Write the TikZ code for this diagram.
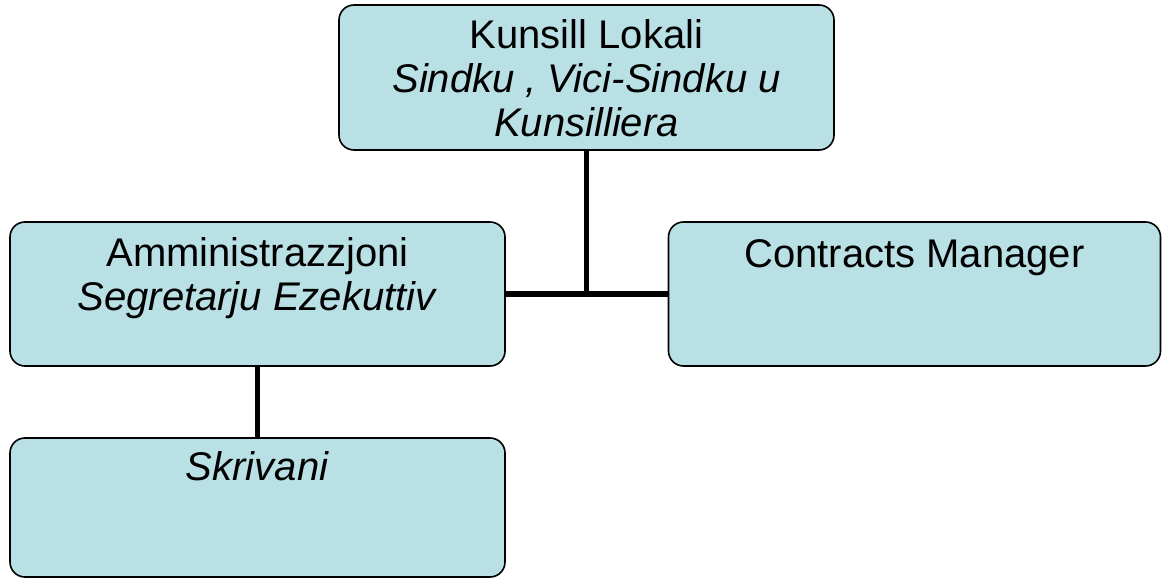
\documentclass[tikz,border=0pt]{standalone}
\usepackage{fontspec}
\setmainfont{Liberation Sans}
\definecolor{boxfill}{RGB}{185,224,228}
\begin{document}
\begin{tikzpicture}[x=1pt,y=-1pt,
  orgbox/.style={draw=black,line width=1.6pt,fill=boxfill,rounded corners=15pt,inner sep=0pt},
  boxtext/.style={font=\fontsize{40}{44}\selectfont,align=center,anchor=base,inner sep=0pt},
  conn/.style={line width=5.5pt}]
\useasboundingbox (0,0) rectangle (1162,580);
\node[orgbox,minimum width=495pt,minimum height=145pt] (top) at (586.5,77.5) {};
\node[orgbox,minimum width=495pt,minimum height=144pt] (left) at (257.5,294) {};
\node[orgbox,minimum width=492pt,minimum height=144pt] (right) at (914.5,294) {};
\node[orgbox,minimum width=495pt,minimum height=139pt] (bottom) at (257.5,507.5) {};
\node[boxtext] (toptext) at (586.5,137) {Kunsill Lokali\\\textit{Sindku , Vici-Sindku u}\\\textit{Kunsilliera}};
\node[boxtext] (lefttext) at (257.5,310) {Amministrazzjoni\\\textit{Segretarju Ezekuttiv}};
\node[boxtext] (righttext) at (914.5,267) {Contracts Manager};
\node[boxtext] (bottomtext) at (257.5,480) {\textit{Skrivani}};
\coordinate (junc) at (top.south |- left.east);
\draw[conn] (top.south) -- (junc);
\draw[conn] (left.east) -- (right.west);
\draw[conn] (left.south) -- (bottom.north);
\end{tikzpicture}
\end{document}
